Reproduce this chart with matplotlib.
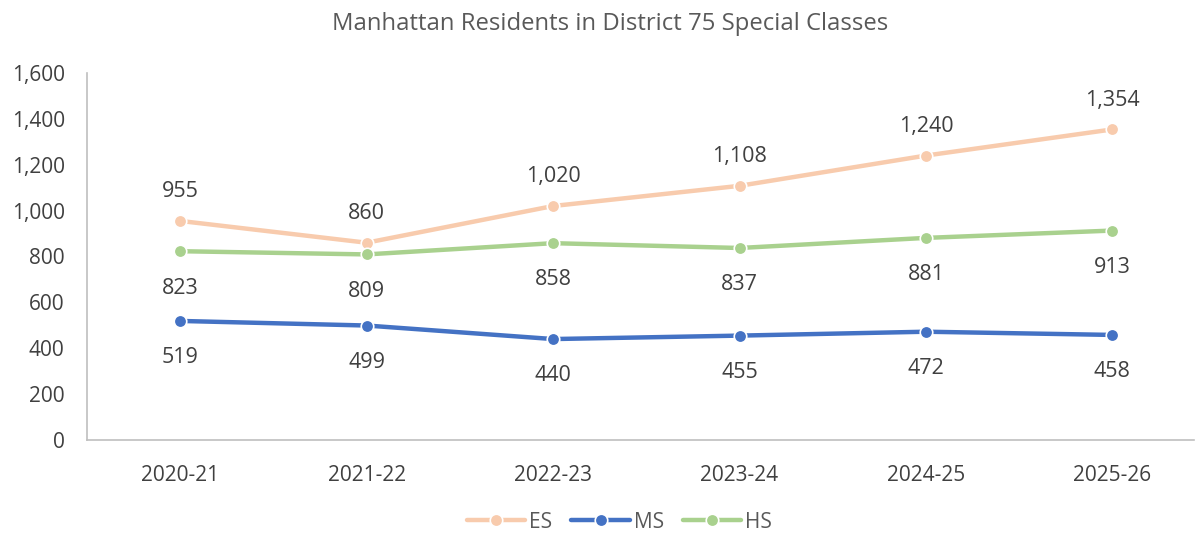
import matplotlib
matplotlib.use("Agg")
import matplotlib.pyplot as plt
from matplotlib.ticker import FuncFormatter

years = ["2020-21", "2021-22", "2022-23", "2023-24", "2024-25", "2025-26"]
es = [955, 860, 1020, 1108, 1240, 1354]
ms = [519, 499, 440, 455, 472, 458]
hs = [823, 809, 858, 837, 881, 913]

plt.rcParams['font.family'] = ['Open Sans', 'DejaVu Sans']
txt = '#404040'
fig = plt.figure(figsize=(11.96, 5.35), dpi=100)
ax = fig.add_axes([0.0727, 0.1776, 0.926, 0.686])

x = list(range(len(years)))
series = [("ES", es, '#F8CBAD', 'above'), ("MS", ms, '#4472C4', 'below'), ("HS", hs, '#A9D18E', 'below')]
for name, vals, col, pos in series:
    ax.plot(x, vals, color=col, lw=3.2, marker='o', ms=9, mec='white', mew=1.2, mfc=col,
            label=name, solid_capstyle='round')
    for xi, v in zip(x, vals):
        off = 21 if pos == 'above' else -26.5
        ax.annotate(f"{v:,}", (xi, v), xytext=(0, off), textcoords='offset points',
                    ha='center', va='center', fontsize=15.5, color=txt)

ax.set_xlim(-0.5, 5.44)
ax.set_ylim(0, 1600)
ax.set_yticks(range(0, 1601, 200))
ax.yaxis.set_major_formatter(FuncFormatter(lambda v, p: f"{int(v):,}"))
ax.set_xticks(x)
ax.set_xticklabels(years)
ax.tick_params(axis='both', length=0, labelsize=15, colors=txt)
ax.tick_params(axis='x', pad=18)
ax.tick_params(axis='y', pad=16)
for s in ['top', 'right']:
    ax.spines[s].set_visible(False)
for s in ['left', 'bottom']:
    ax.spines[s].set_color('#BFBFBF')
    ax.spines[s].set_linewidth(1.2)

fig.text(0.51, 0.955, "Manhattan Residents in District 75 Special Classes", ha='center', va='center',
         fontsize=17.2, color='#595959')
fig.legend(loc='center', bbox_to_anchor=(0.518, 0.024), ncol=3, frameon=False, fontsize=15,
           labelcolor='#595959', handlelength=2.8, columnspacing=0.9, handletextpad=0.2)
fig.savefig("out.png", dpi=100)
